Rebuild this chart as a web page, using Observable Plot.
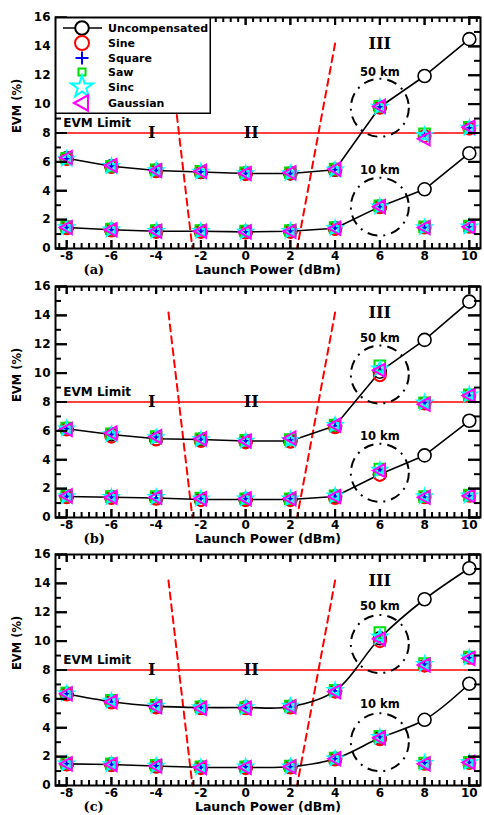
<!DOCTYPE html>
<html>
<head>
<meta charset="utf-8">
<script src="https://cdn.jsdelivr.net/npm/d3@7"></script>
<script src="https://cdn.jsdelivr.net/npm/@observablehq/plot@0.6"></script>
<style>
  html, body { margin: 0; padding: 0; background: #fff; }
  #wrap { position: relative; width: 484px; height: 815px; overflow: hidden; }
  #wrap svg.panel { position: absolute; left: 0; }
  #legend { position: absolute; left: 55px; top: 17px; }
</style>
</head>
<body>
<div id="wrap"></div>
<script>
// ---------- data ----------
const launchPower = [-8, -6, -4, -2, 0, 2, 4, 6, 8, 10];
const schemes = ["Sine", "Square", "Saw", "Sinc", "Gaussian"];
const schemeColors = ["#ff0000", "#0000ff", "#00dd00", "#00ffff", "#ff00ff"];
const panelLabels = ["(a)", "(b)", "(c)"];
const distances = ["50 km", "10 km"];

// uncompensated EVM (%)
const uncompA50 = [6.25, 5.7, 5.4, 5.3, 5.2, 5.2, 5.45, 9.8, 11.95, 14.5];
const uncompA10 = [1.45, 1.3, 1.2, 1.2, 1.15, 1.2, 1.4, 2.9, 4.1, 6.6];
const uncompB50 = [6.15, 5.75, 5.45, 5.4, 5.3, 5.3, 6.35, 10.1, 12.3, 14.95];
const uncompB10 = [1.45, 1.4, 1.35, 1.25, 1.25, 1.25, 1.45, 3.0, 4.3, 6.7];
const uncompC50 = [6.35, 5.8, 5.5, 5.4, 5.4, 5.45, 6.55, 10.2, 12.9, 15.05];
const uncompC10 = [1.5, 1.45, 1.35, 1.25, 1.25, 1.3, 1.85, 3.3, 4.55, 7.05];

// compensated EVM (%), rows in order: Sine, Square, Saw, Sinc, Gaussian
const compA50 = [
  [6.2, 5.65, 5.35, 5.3, 5.15, 5.2, 5.45, 9.75, 7.8, 8.3],
  [6.2, 5.7, 5.4, 5.3, 5.2, 5.2, 5.45, 9.8, 7.85, 8.35],
  [6.25, 5.7, 5.45, 5.35, 5.25, 5.25, 5.5, 9.85, 7.95, 8.4],
  [6.2, 5.7, 5.4, 5.3, 5.2, 5.2, 5.45, 9.8, 7.85, 8.35],
  [6.3, 5.75, 5.4, 5.35, 5.2, 5.25, 5.5, 9.85, 7.6, 8.4]
];
const compA10 = [
  [1.4, 1.25, 1.15, 1.15, 1.1, 1.15, 1.35, 2.85, 1.45, 1.5],
  [1.45, 1.3, 1.2, 1.2, 1.15, 1.2, 1.4, 2.9, 1.45, 1.5],
  [1.5, 1.35, 1.25, 1.25, 1.2, 1.25, 1.45, 2.95, 1.5, 1.55],
  [1.45, 1.3, 1.2, 1.2, 1.15, 1.2, 1.4, 2.9, 1.45, 1.5],
  [1.45, 1.3, 1.2, 1.2, 1.15, 1.2, 1.4, 2.9, 1.45, 1.5]
];
const compB50 = [
  [6.1, 5.6, 5.4, 5.3, 5.2, 5.25, 6.25, 9.85, 7.9, 8.45],
  [6.15, 5.75, 5.55, 5.4, 5.3, 5.35, 6.35, 10.2, 7.95, 8.45],
  [6.2, 5.8, 5.6, 5.45, 5.35, 5.4, 6.4, 10.5, 7.95, 8.5],
  [6.15, 5.75, 5.55, 5.4, 5.3, 5.35, 6.4, 10.3, 7.95, 8.5],
  [6.1, 5.85, 5.6, 5.45, 5.3, 5.5, 6.4, 10.2, 7.85, 8.45]
];
const compB10 = [
  [1.4, 1.35, 1.3, 1.2, 1.2, 1.2, 1.35, 2.95, 1.4, 1.5],
  [1.45, 1.4, 1.35, 1.3, 1.3, 1.3, 1.45, 3.25, 1.4, 1.5],
  [1.5, 1.45, 1.45, 1.35, 1.3, 1.3, 1.5, 3.35, 1.45, 1.55],
  [1.45, 1.4, 1.4, 1.3, 1.3, 1.3, 1.5, 3.3, 1.45, 1.5],
  [1.5, 1.4, 1.4, 1.3, 1.3, 1.3, 1.45, 3.25, 1.4, 1.5]
];
const compC50 = [
  [6.3, 5.75, 5.4, 5.35, 5.35, 5.4, 6.5, 10.0, 8.3, 8.85],
  [6.35, 5.8, 5.5, 5.4, 5.4, 5.45, 6.55, 10.2, 8.4, 8.85],
  [6.4, 5.9, 5.55, 5.45, 5.4, 5.5, 6.6, 10.6, 8.45, 8.9],
  [6.35, 5.85, 5.5, 5.4, 5.4, 5.5, 6.6, 10.3, 8.4, 8.85],
  [6.35, 5.8, 5.45, 5.35, 5.35, 5.45, 6.5, 10.15, 8.35, 8.8]
];
const compC10 = [
  [1.45, 1.4, 1.3, 1.2, 1.2, 1.25, 1.8, 3.2, 1.5, 1.55],
  [1.5, 1.45, 1.35, 1.25, 1.3, 1.3, 1.85, 3.35, 1.55, 1.6],
  [1.55, 1.5, 1.4, 1.3, 1.3, 1.35, 1.9, 3.4, 1.55, 1.6],
  [1.5, 1.45, 1.35, 1.25, 1.3, 1.3, 1.85, 3.35, 1.55, 1.6],
  [1.5, 1.45, 1.35, 1.25, 1.25, 1.3, 1.85, 3.3, 1.5, 1.6]
];

// annotations
const evmLimit = 8;
const evmLimitLabel = "EVM Limit";
const evmLimitLabelX = -8.15;
const regionLabels = ["I", "II", "III"];
const regionX = [-4.2, 0.25, 6];
const regionY = [8, 8, 14.2];
const boundaryLeftX = [-3.45, -2.38];
const boundaryLeftY = [14.2, 0];
const boundaryRightX = [4.0, 2.3];
const boundaryRightY = [14.2, 0];
const ringX = 6;
const ringY = [[9.75, 2.9], [9.9, 3.1], [9.8, 3.0]];       // 50 km, 10 km
const distLabelY = [[12.2, 5.45], [12.4, 5.6], [12.4, 5.6]];
const xDomain = [-8.5, 10.5];
const yDomain = [0, 16];
const xTicks = [-8, -6, -4, -2, 0, 2, 4, 6, 8, 10];
const yTicks = [0, 2, 4, 6, 8, 10, 12, 14, 16];
const yMinorTicks = [1, 3, 5, 7, 9, 11, 13, 15];
const xLabel = "Launch Power (dBm)";
const yLabel = "EVM (%)";

const uncompensated = [[uncompA50, uncompA10], [uncompB50, uncompB10], [uncompC50, uncompC10]];
const compensated = [[compA50, compA10], [compB50, compB10], [compC50, compC10]];
const curves = ["linear", "linear", "catmull-rom"];

// ---------- symbols ----------
const symPlus = {draw(c, size) { const r = Math.sqrt(size / Math.PI); c.moveTo(-r, 0); c.lineTo(r, 0); c.moveTo(0, -r); c.lineTo(0, r); }};
const symTriLeft = {draw(c, size) { const r = Math.sqrt(size / Math.PI); c.moveTo(-r * 1.15, 0); c.lineTo(r * 0.85, -r * 1.1); c.lineTo(r * 0.85, r * 1.1); c.closePath(); }};
const schemeSymbols = ["circle", symPlus, "square", "star", symTriLeft];
const schemeR = [6, 4.8, 6, 4.3, 6];

const xMinor = d3.range(-25, 32).filter(k => k % 6 !== 0).map(k => k / 3).filter(v => v > xDomain[0] && v < xDomain[1]);

const FONT = "'DejaVu Sans', 'Liberation Sans', Arial, sans-serif";
const SERIF = "'DejaVu Serif', 'Liberation Serif', 'Times New Roman', serif";

const W = 484, H = 268, MT = 17, MB = 20, ML = 55, MR = 4;
const FW = W - ML - MR, FH = H - MT - MB;
const ux = (xDomain[1] - xDomain[0]) / FW, uy = (yDomain[1] - yDomain[0]) / FH;

function makePanel(p) {
  const uncRows = [];
  distances.forEach((d, j) => launchPower.forEach((x, i) => uncRows.push({x, y: uncompensated[p][j][i], dist: d})));
  const compMarks = schemes.map((s, k) => {
    const rows = [];
    distances.forEach((d, j) => launchPower.forEach((x, i) => rows.push({x, y: compensated[p][j][k][i]})));
    return Plot.dot(rows, {x: "x", y: "y", symbol: () => schemeSymbols[k], r: schemeR[k], stroke: schemeColors[k], strokeWidth: 2, fill: "none"});
  });
  const rings = distances.map((d, j) => ({x: ringX, y: ringY[p][j], label: d, ly: distLabelY[p][j]}));
  const regions = regionLabels.map((t, i) => ({t, x: regionX[i], y: regionY[i]}));
  const tk = {stroke: "black", strokeWidth: 2};
  const yTickRule = (data, len, side) => Plot.ruleY(data, {y: d => d,
    x1: side === "left" ? xDomain[0] : xDomain[1] - len * ux,
    x2: side === "left" ? xDomain[0] + len * ux : xDomain[1], ...tk});
  const xTickRule = (data, len, side) => Plot.ruleX(data, {x: d => d,
    y1: side === "bottom" ? yDomain[0] : yDomain[1] - len * uy,
    y2: side === "bottom" ? yDomain[0] + len * uy : yDomain[1], ...tk});

  return Plot.plot({
    width: W, height: H,
    marginTop: MT, marginBottom: MB, marginLeft: ML, marginRight: MR,
    x: {domain: xDomain},
    y: {domain: yDomain},
    style: {overflow: "visible", background: "transparent", fontFamily: FONT},
    marks: [
      Plot.axisY({anchor: "left", ticks: yTicks, tickSize: 0, tickPadding: 5, tickFormat: d => String(d), fontWeight: "bold", fontSize: 12, label: null}),
      Plot.axisX({anchor: "bottom", ticks: xTicks, tickSize: 0, tickPadding: 3, tickFormat: d => String(d), fontWeight: "bold", fontSize: 12, label: null}),
      Plot.ruleY([evmLimit], {stroke: "#ff0000", strokeWidth: 1.6}),
      Plot.text([evmLimitLabel], {x: evmLimitLabelX, y: evmLimit, dy: -10, text: d => d, textAnchor: "start", fontWeight: "bold", fontSize: 12, fill: "black"}),
      Plot.line(boundaryLeftX.map((x, i) => ({x, y: boundaryLeftY[i]})), {x: "x", y: "y", stroke: "#ff0000", strokeWidth: 2, strokeDasharray: "7,5"}),
      Plot.line(boundaryRightX.map((x, i) => ({x, y: boundaryRightY[i]})), {x: "x", y: "y", stroke: "#ff0000", strokeWidth: 2, strokeDasharray: "7,5"}),
      Plot.text(regions, {x: "x", y: "y", text: "t", fontFamily: SERIF, fontWeight: "bold", fontSize: 16, fill: "black"}),
      Plot.dot(rings, {x: "x", y: "y", r: 29, stroke: "black", strokeWidth: 2, strokeDasharray: "10,6,2,6", fill: "none"}),
      Plot.text(rings, {x: "x", y: "ly", text: "label", fontWeight: "bold", fontSize: 11.5, fill: "black"}),
      Plot.line(uncRows, {x: "x", y: "y", z: "dist", stroke: "black", strokeWidth: 1.6, curve: curves[p]}),
      Plot.dot(uncRows, {x: "x", y: "y", r: 6.5, stroke: "black", strokeWidth: 1.6, fill: "white"}),
      ...compMarks,
      // inward ticks, drawn on top
      yTickRule(yTicks, 12, "left"), yTickRule(yMinorTicks, 6, "left"),
      yTickRule(yTicks, 12, "right"), yTickRule(yMinorTicks, 6, "right"),
      xTickRule(xTicks, 8, "bottom"), xTickRule(xMinor, 5, "bottom"),
      xTickRule(xTicks, 8, "top"), xTickRule(xMinor, 5, "top"),
      Plot.tickY(yTicks, {y: d => d, insetRight: FW - 12, ...tk}),
      Plot.tickY(yTicks, {y: d => d, insetLeft: FW - 12, ...tk}),
      Plot.tickX(xTicks, {x: d => d, insetTop: FH - 8, ...tk}),
      Plot.tickX(xTicks, {x: d => d, insetBottom: FH - 8, ...tk}),
      Plot.frame({stroke: "black", strokeWidth: 2}),
      Plot.text([xLabel], {frameAnchor: "bottom", dy: 25, text: d => d, fontWeight: "bold", fontSize: 12.5, fill: "black"}),
      Plot.text([panelLabels[p]], {frameAnchor: "bottom-left", dx: 28, dy: 25, text: d => d, fontFamily: SERIF, fontWeight: "bold", fontSize: 13, fill: "black"}),
      Plot.text([yLabel], {frameAnchor: "left", dx: -38, rotate: -90, text: d => d, fontWeight: "bold", fontSize: 11.5, fill: "black"})
    ]
  });
}

const wrap = document.getElementById("wrap");
const tops = [0, 269, 537];
tops.forEach((t, p) => {
  const svg = makePanel(p);
  svg.classList.add("panel");
  svg.style.top = t + "px";
  wrap.appendChild(svg);
});

// ---------- legend (panel a) ----------
const legendNames = ["Uncompensated", ...schemes];
const legendColors = ["black", ...schemeColors];
const legendSymbols = ["circle", ...schemeSymbols];
const legendR = [6.8, 7, 6.5, 4.0, 7, 7];
const legendRowY = [11, 26, 41, 55, 70, 86];
const lg = d3.create("svg").attr("id", "legend").attr("width", 156).attr("height", 97);
lg.append("rect").attr("x", 0.75).attr("y", 0.75).attr("width", 154.5).attr("height", 95.5)
  .attr("fill", "white").attr("stroke", "black").attr("stroke-width", 1.5);
legendNames.forEach((name, i) => {
  const g = lg.append("g").attr("transform", `translate(0,${legendRowY[i]})`);
  if (i === 0) g.append("line").attr("x1", 8).attr("x2", 47).attr("stroke", "black").attr("stroke-width", 1.6);
  const s = legendSymbols[i];
  const type = typeof s === "string" ? {circle: d3.symbolCircle, square: d3.symbolSquare, star: d3.symbolStar}[s] : s;
  g.append("path").attr("transform", "translate(27,0)")
    .attr("d", d3.symbol(type, Math.PI * legendR[i] * legendR[i])())
    .attr("fill", i === 0 ? "white" : "none").attr("stroke", legendColors[i]).attr("stroke-width", 2);
  g.append("text").attr("x", 53).attr("y", 4).text(name)
    .attr("font-family", FONT).attr("font-weight", "bold").attr("font-size", 11).attr("fill", "black");
});
wrap.appendChild(lg.node());
</script>
</body>
</html>
